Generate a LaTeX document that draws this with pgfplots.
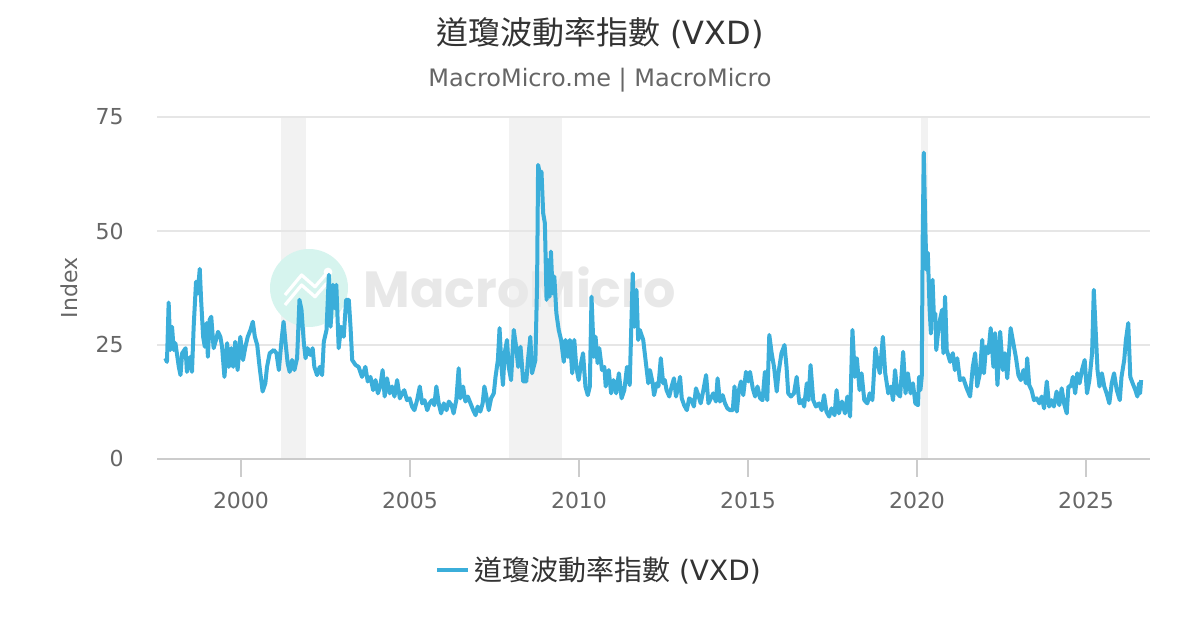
\documentclass[border=0pt]{standalone}
\usepackage{fontspec}
\setmainfont{DejaVu Sans}
\newfontfamily\cjk{Noto Sans CJK TC}
\newfontfamily\wmfont{Poppins}
\usepackage{pgfplots}
\pgfplotsset{compat=1.18}
\definecolor{vxdblue}{RGB}{59,174,218}
\definecolor{bandgray}{RGB}{242,242,242}
\definecolor{gridgray}{RGB}{230,230,230}
\definecolor{axisgray}{RGB}{204,204,204}
\definecolor{subgray}{RGB}{102,102,102}
\definecolor{titlegray}{RGB}{51,51,51}
\definecolor{wmteal}{RGB}{214,244,238}
\definecolor{wmgray}{RGB}{232,232,232}
\pgfplotsset{
  vxdframe/.style={
    at={(78.5pt,85.5pt)}, anchor=south west,
    scale only axis, width=496.5pt, height=171pt,
    xmin=1997.515, xmax=2026.893, ymin=0, ymax=75,
  }
}
\begin{document}
\begin{tikzpicture}[x=1pt,y=1pt]
\useasboundingbox (0,0) rectangle (600,315);
\node[anchor=base, inner sep=0pt, text=titlegray, font=\fontsize{16}{19}\selectfont] at (300,292.5) {{\cjk 道瓊波動率指數} (VXD)};
\node[anchor=base, inner sep=0pt, text=subgray, font=\fontsize{12}{14}\selectfont] at (300,271.8) {MacroMicro.me | MacroMicro};
% background: recession bands
\begin{axis}[vxdframe, hide axis]
\addplot[fill=bandgray, draw=none] coordinates {(2001.18,75) (2001.93,75)} \closedcycle;
\addplot[fill=bandgray, draw=none] coordinates {(2007.93,75) (2009.50,75)} \closedcycle;
\addplot[fill=bandgray, draw=none] coordinates {(2020.11,75) (2020.33,75)} \closedcycle;
\end{axis}
% watermark
\fill[wmteal] (154.5,171) circle[radius=19.5];
\draw[white, line width=1.6pt, line join=round] (142.5,167.5) -- (150.8,177.5) -- (157.5,171.6) -- (163.3,178.3);
\draw[white, line width=1.6pt, line join=round] (142.5,162.5) -- (150.8,172.5) -- (157.5,166.6) -- (163.3,173.3);
\fill[white] (164,179) circle[radius=2.2];
\node[anchor=base west, inner sep=0pt, text=wmgray, font=\wmfont\bfseries\fontsize{25.4}{28}\selectfont] at (181.5,161) {MacroMicro};
\begin{axis}[
  vxdframe,
  axis x line*=bottom, axis y line*=left,
  y axis line style={draw=none},
  x axis line style={draw=axisgray, line width=1pt, -},
  xtick={2000,2005,2010,2015,2020,2025},
  ytick={0,25,50,75},
  tick align=inside,
  major tick length=9pt,
  xtick style={draw=axisgray, line width=1pt, yshift=-9pt},
  ytick style={draw=none},
  ymajorgrids, grid style={draw=gridgray, line width=1pt, yshift=0pt},
  /pgf/number format/assume math mode=true,
  /pgf/number format/1000 sep={},
  ticklabel style={font=\fontsize{11}{13}\selectfont, text=subgray},
  xticklabel style={anchor=north, inner sep=0pt, yshift=-16.5pt},
  yticklabel style={anchor=east, inner sep=0pt, xshift=-16.5pt},
  ylabel={Index},
  ylabel style={at={(axis description cs:-0.0886,0.5)}, anchor=center, font=\fontsize{11}{13}\selectfont, text=subgray},
  legend style={at={(axis description cs:0.4461,-0.3246)}, anchor=center, draw=none, fill=none, inner sep=0pt, font=\fontsize{14}{17}\selectfont, text=titlegray},
  legend image code/.code={\draw[line width=2pt, vxdblue] (0pt,0pt) -- (15.5pt,0pt);},
]
\addplot[vxdblue, line width=2pt, line join=round, mark=none] table {
1997.76 22.1
1997.81 21.3
1997.86 34.3
1997.91 23.9
1997.96 29.0
1998.01 23.9
1998.06 25.4
1998.16 20.2
1998.21 18.4
1998.26 23.2
1998.36 24.3
1998.40 19.1
1998.50 22.4
1998.55 19.1
1998.60 29.0
1998.67 38.9
1998.72 36.3
1998.78 41.7
1998.82 34.9
1998.88 26.8
1998.93 24.6
1998.98 29.8
1999.02 22.4
1999.07 30.5
1999.12 31.2
1999.19 24.3
1999.26 26.1
1999.32 27.9
1999.39 26.8
1999.44 24.6
1999.51 18.0
1999.59 25.4
1999.64 20.2
1999.71 24.3
1999.77 20.2
1999.83 25.7
1999.90 19.5
1999.98 26.8
2000.06 21.7
2000.13 24.6
2000.20 26.8
2000.28 28.3
2000.35 30.1
2000.41 26.8
2000.48 25.0
2000.55 20.2
2000.64 14.8
2000.72 16.6
2000.77 20.2
2000.85 23.2
2000.97 23.9
2001.05 23.2
2001.12 19.5
2001.20 26.1
2001.26 30.1
2001.31 26.1
2001.38 21.0
2001.44 19.1
2001.51 21.7
2001.58 19.5
2001.66 22.1
2001.73 34.9
2001.79 32.7
2001.86 25.4
2001.91 22.1
2001.97 24.3
2002.05 22.8
2002.12 24.3
2002.17 20.2
2002.25 18.4
2002.33 20.2
2002.40 18.4
2002.45 25.7
2002.53 28.3
2002.60 40.4
2002.65 29.0
2002.72 38.2
2002.79 33.0
2002.82 38.2
2002.89 24.3
2002.96 29.0
2003.04 26.8
2003.11 34.9
2003.19 34.9
2003.24 29.0
2003.29 21.7
2003.39 20.6
2003.48 20.2
2003.58 18.0
2003.68 20.2
2003.75 17.0
2003.83 18.0
2003.91 15.1
2003.98 17.3
2004.05 14.4
2004.12 15.9
2004.19 19.5
2004.25 13.7
2004.32 17.7
2004.40 14.4
2004.47 15.9
2004.54 13.7
2004.62 17.3
2004.70 13.3
2004.77 14.4
2004.83 15.1
2004.91 12.9
2004.99 13.3
2005.06 11.5
2005.13 10.7
2005.21 12.9
2005.29 15.9
2005.36 12.2
2005.43 12.9
2005.51 10.7
2005.58 12.2
2005.65 12.9
2005.72 11.8
2005.78 15.9
2005.85 12.2
2005.92 10.0
2006.00 12.2
2006.08 10.7
2006.15 12.6
2006.23 11.8
2006.29 10.0
2006.37 12.9
2006.44 19.9
2006.49 13.3
2006.57 15.9
2006.64 12.6
2006.71 13.7
2006.79 12.2
2006.87 10.7
2006.94 9.6
2007.00 11.5
2007.08 10.4
2007.15 12.2
2007.20 15.9
2007.26 13.7
2007.33 10.7
2007.40 13.3
2007.48 14.4
2007.53 18.0
2007.60 21.7
2007.65 28.7
2007.70 21.0
2007.75 16.2
2007.80 23.2
2007.87 26.1
2007.92 20.2
2007.99 17.3
2008.07 28.3
2008.14 24.6
2008.20 20.2
2008.27 24.6
2008.35 17.0
2008.44 17.0
2008.49 21.7
2008.56 26.8
2008.61 18.8
2008.71 21.7
2008.76 38.5
2008.79 64.5
2008.84 62.6
2008.89 63.0
2008.94 53.9
2008.99 51.7
2009.04 34.9
2009.08 43.6
2009.13 35.6
2009.17 45.5
2009.22 36.3
2009.27 40.0
2009.33 32.0
2009.40 28.3
2009.47 26.1
2009.55 21.3
2009.60 26.1
2009.67 22.4
2009.73 26.1
2009.80 18.8
2009.86 26.1
2009.92 20.2
2009.99 17.3
2010.06 21.0
2010.12 23.2
2010.19 15.9
2010.26 14.0
2010.32 15.9
2010.37 35.6
2010.44 22.4
2010.49 26.8
2010.55 21.0
2010.60 24.3
2010.68 19.5
2010.75 20.2
2010.79 15.9
2010.88 19.5
2010.95 14.4
2011.02 17.3
2011.10 14.4
2011.18 18.8
2011.26 13.3
2011.34 15.1
2011.42 20.2
2011.50 16.2
2011.59 40.7
2011.64 29.0
2011.70 37.1
2011.75 26.1
2011.80 28.3
2011.90 26.1
2011.98 21.0
2012.05 16.6
2012.10 19.5
2012.18 16.6
2012.22 14.0
2012.30 16.6
2012.35 15.9
2012.42 22.1
2012.49 16.6
2012.54 17.3
2012.59 15.1
2012.67 13.7
2012.74 15.9
2012.81 17.7
2012.87 13.7
2012.94 15.9
2012.99 18.0
2013.04 13.3
2013.11 11.8
2013.19 10.7
2013.26 13.3
2013.33 12.9
2013.40 11.5
2013.46 15.5
2013.53 14.0
2013.60 12.2
2013.68 15.1
2013.76 18.4
2013.83 12.2
2013.90 13.3
2013.97 14.4
2014.05 12.6
2014.10 17.7
2014.17 12.6
2014.25 14.0
2014.32 12.2
2014.39 11.1
2014.47 10.7
2014.55 10.7
2014.60 15.9
2014.67 10.4
2014.73 15.1
2014.79 17.0
2014.86 14.0
2014.94 19.1
2015.01 17.0
2015.06 19.1
2015.14 15.5
2015.21 13.7
2015.28 15.9
2015.36 13.3
2015.43 12.9
2015.50 19.1
2015.57 12.9
2015.63 27.2
2015.70 23.2
2015.77 20.2
2015.85 14.8
2015.90 18.8
2015.99 23.2
2016.08 25.0
2016.14 20.2
2016.19 14.4
2016.27 13.7
2016.36 14.4
2016.44 18.0
2016.52 12.2
2016.60 12.9
2016.66 11.5
2016.74 16.6
2016.79 12.9
2016.85 20.6
2016.93 12.9
2017.01 11.5
2017.10 12.2
2017.18 10.7
2017.25 14.0
2017.32 10.4
2017.40 9.3
2017.47 11.1
2017.56 9.6
2017.62 15.1
2017.69 10.0
2017.78 12.6
2017.87 10.0
2017.94 13.7
2018.02 9.3
2018.09 28.3
2018.16 18.0
2018.22 22.1
2018.30 15.1
2018.36 18.8
2018.44 12.9
2018.53 12.2
2018.60 14.4
2018.68 12.9
2018.77 24.3
2018.84 21.0
2018.90 18.8
2018.99 26.8
2019.06 18.8
2019.15 14.4
2019.23 15.9
2019.29 12.9
2019.35 19.5
2019.42 14.4
2019.50 13.7
2019.59 23.5
2019.66 14.4
2019.73 18.8
2019.81 14.4
2019.88 16.6
2019.95 12.2
2020.03 11.8
2020.06 18.0
2020.10 15.1
2020.14 18.0
2020.17 49.5
2020.20 67.2
2020.25 49.5
2020.28 41.5
2020.32 45.2
2020.37 33.4
2020.41 27.5
2020.46 39.3
2020.50 31.2
2020.54 31.9
2020.57 23.9
2020.63 28.3
2020.68 30.5
2020.74 32.7
2020.78 23.2
2020.83 35.6
2020.88 23.9
2020.98 21.3
2021.06 23.2
2021.12 19.5
2021.19 22.1
2021.27 17.3
2021.37 17.7
2021.47 15.5
2021.57 13.7
2021.65 20.2
2021.72 23.2
2021.78 15.9
2021.86 18.8
2021.93 26.1
2021.98 18.8
2022.04 24.6
2022.11 23.2
2022.18 28.7
2022.26 20.2
2022.31 27.6
2022.38 16.2
2022.46 27.9
2022.54 19.5
2022.60 23.2
2022.67 17.7
2022.77 28.7
2022.85 25.4
2022.93 22.1
2023.00 18.4
2023.07 17.3
2023.15 19.5
2023.22 16.6
2023.26 22.1
2023.32 16.2
2023.39 15.1
2023.46 12.9
2023.54 13.3
2023.62 12.2
2023.69 13.7
2023.76 11.1
2023.84 17.0
2023.91 11.5
2023.98 12.9
2024.05 11.5
2024.13 14.8
2024.21 11.8
2024.28 15.5
2024.35 12.2
2024.43 10.0
2024.48 15.9
2024.55 15.9
2024.61 18.0
2024.68 14.4
2024.74 18.8
2024.81 16.6
2024.88 19.5
2024.96 21.7
2025.03 14.4
2025.10 17.3
2025.18 23.2
2025.23 37.1
2025.29 27.5
2025.34 19.5
2025.40 15.9
2025.47 18.8
2025.54 15.9
2025.61 14.4
2025.69 12.2
2025.76 16.6
2025.83 18.8
2025.91 15.1
2026.00 12.9
2026.05 18.0
2026.13 21.7
2026.18 26.1
2026.25 29.8
2026.31 18.0
2026.38 16.6
2026.46 15.1
2026.52 13.7
2026.57 16.6
2026.60 14.4
2026.63 17.3
};
\addlegendentry{{\cjk 道瓊波動率指數} (VXD)}
\end{axis}
\end{tikzpicture}
\end{document}
